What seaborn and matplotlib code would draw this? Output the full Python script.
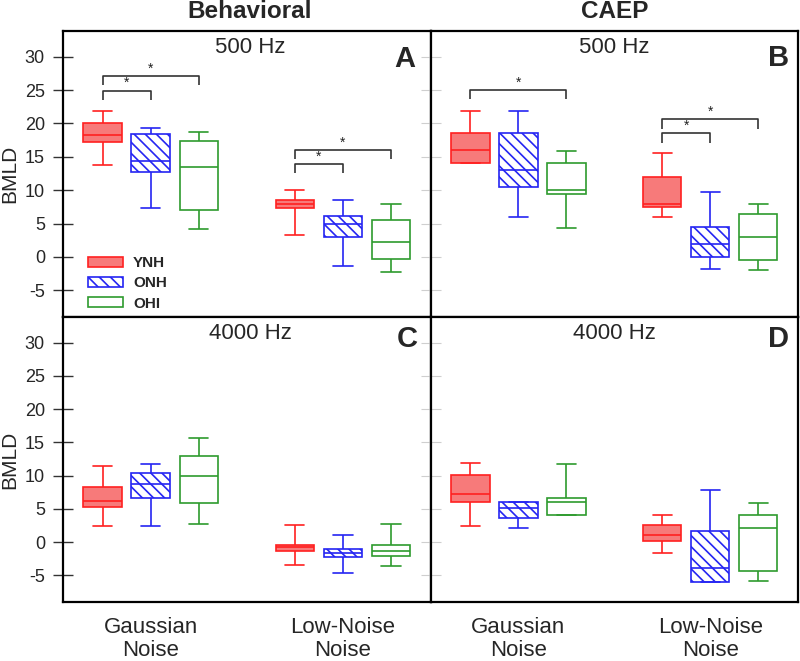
import numpy as np
import pandas as pd
import matplotlib
matplotlib.use("Agg")
import matplotlib.pyplot as plt
import seaborn as sns
from matplotlib.patches import Patch

# ---------------- data ----------------
NOISES = ["Gaussian\nNoise", "Low-Noise\nNoise"]
GROUPS = ["YNH", "ONH", "OHI"]
PANEL_LETTERS = ["A", "B", "C", "D"]
PANEL_FREQS = ["500 Hz", "500 Hz", "4000 Hz", "4000 Hz"]
COLUMN_TITLES = ["Behavioral", "CAEP"]
Y_TICKS = [-5, 0, 5, 10, 15, 20, 25, 30]

# five-number summaries [min, q1, median, q3, max]: [Gaussian, Low-Noise]
A_YNH = [[13.7, 17.2, 18.2, 20.1, 21.8], [3.3, 7.3, 7.9, 8.5, 10.0]]
A_ONH = [[7.4, 12.7, 14.4, 18.4, 19.3], [-1.4, 3.0, 5.0, 6.2, 8.5]]
A_OHI = [[4.2, 7.1, 13.5, 17.3, 18.7], [-2.3, -0.3, 2.2, 5.6, 7.9]]
B_YNH = [[14.0, 14.0, 16.0, 18.5, 21.8], [6.0, 7.5, 8.0, 12.0, 15.6]]
B_ONH = [[6.0, 10.5, 13.0, 18.5, 21.8], [-1.8, 0.0, 2.0, 4.5, 9.7]]
B_OHI = [[4.4, 9.5, 10.0, 14.0, 15.8], [-2.0, -0.5, 3.0, 6.5, 8.0]]
C_YNH = [[2.5, 5.3, 6.2, 8.3, 11.4], [-3.4, -1.3, -0.8, -0.5, 2.6]]
C_ONH = [[2.4, 6.7, 8.8, 10.4, 11.8], [-4.7, -2.2, -1.6, -1.0, 1.1]]
C_OHI = [[2.8, 5.9, 10.0, 12.9, 15.7], [-3.6, -2.1, -1.4, -0.5, 2.7]]
D_YNH = [[2.5, 6.1, 7.3, 10.1, 11.9], [-1.7, 0.1, 1.1, 2.6, 4.1]]
D_ONH = [[2.1, 3.6, 5.1, 6.1, 6.1], [-6.0, -6.0, -3.9, 1.6, 7.9]]
D_OHI = [[4.1, 4.1, 6.1, 6.6, 11.7], [-5.9, -4.4, 2.1, 4.1, 5.9]]

# significance brackets: (noise index, compared group, bracket height)
A_BRACKETS = [(0, "ONH", 24.9), (0, "OHI", 27.1), (1, "ONH", 13.9), (1, "OHI", 16.0)]
B_BRACKETS = [(0, "OHI", 25.0), (1, "ONH", 18.5), (1, "OHI", 20.6)]
C_BRACKETS = []
D_BRACKETS = []

PANELS = [
    {"YNH": A_YNH, "ONH": A_ONH, "OHI": A_OHI},
    {"YNH": B_YNH, "ONH": B_ONH, "OHI": B_OHI},
    {"YNH": C_YNH, "ONH": C_ONH, "OHI": C_OHI},
    {"YNH": D_YNH, "ONH": D_ONH, "OHI": D_OHI},
]
BRACKETS = [A_BRACKETS, B_BRACKETS, C_BRACKETS, D_BRACKETS]

# ---------------- style ----------------
FACE = {"YNH": "#F77A7A", "ONH": "white", "OHI": "white"}
EDGE = {"YNH": "#FF2020", "ONH": "#2525F2", "OHI": "#2E9B2E"}
HATCH = {"YNH": None, "ONH": "\\\\\\", "OHI": None}
WIDTH = 0.75
GAP = 0.2
LW = 1.2

sns.set_theme(style="white")
plt.rcParams["font.family"] = ["Liberation Sans", "DejaVu Sans"]
plt.rcParams["axes.unicode_minus"] = False
plt.rcParams["hatch.linewidth"] = 1.2

fig = plt.figure(figsize=(8.0, 6.61), dpi=100)
W, H = 800.0, 661.0
x0, xm, x1 = 63, 431, 798
y0, ym, y1 = 31, 317, 602
rects = [
    [x0 / W, 1 - ym / H, (xm - x0) / W, (ym - y0) / H],
    [xm / W, 1 - ym / H, (x1 - xm) / W, (ym - y0) / H],
    [x0 / W, 1 - y1 / H, (xm - x0) / W, (y1 - ym) / H],
    [xm / W, 1 - y1 / H, (x1 - xm) / W, (y1 - ym) / H],
]
letter_pos = [(0.929, 0.902), (0.948, 0.906), (0.935, 0.923), (0.946, 0.923)]

for i, (rect, series) in enumerate(zip(rects, PANELS)):
    ax = fig.add_axes(rect)
    rows = []
    for g in GROUPS:
        for ni, noise in enumerate(NOISES):
            for v in series[g][ni]:
                rows.append({"noise": noise, "group": g, "value": v})
    df = pd.DataFrame(rows)
    for g in GROUPS:
        sub = df[df["group"] == g]
        n0 = len(ax.patches)
        sns.boxplot(data=sub, x="noise", y="value", hue="group",
                    order=NOISES, hue_order=GROUPS,
                    palette={k: FACE[g] for k in GROUPS}, saturation=1,
                    linecolor=EDGE[g], linewidth=LW, width=WIDTH, gap=GAP,
                    whis=(0, 100), dodge=True, legend=False, ax=ax)
        for p in ax.patches[n0:]:
            p.set_facecolor(FACE[g])
            p.set_edgecolor(EDGE[g])
            p.set_linewidth(LW)
            if HATCH[g]:
                p.set_hatch(HATCH[g])

    # significance brackets
    step = WIDTH / len(GROUPS)
    for ni, g2, yb in BRACKETS[i]:
        xa = ni + (0 - 1) * step
        xb = ni + (GROUPS.index(g2) - 1) * step
        ax.plot([xa, xa, xb, xb], [yb - 1.4, yb, yb, yb - 1.4],
                color="#333333", lw=1.2, solid_capstyle="butt")
        ax.text((xa + xb) / 2, yb + 0.1, "*", ha="center", va="bottom",
                fontsize=10, color="#222222")

    ax.set_xlim(-0.456, 1.458)
    ax.set_ylim(-9.0, 33.85)
    ax.set_xlabel("")
    ax.set_ylabel("")
    for sp in ax.spines.values():
        sp.set_visible(True)
        sp.set_color("black")
        sp.set_linewidth(1.6)

    ax.set_yticks(Y_TICKS)
    if i % 2 == 0:
        ax.set_yticklabels([str(t) for t in Y_TICKS], fontsize=13)
        ax.tick_params(axis="y", direction="inout", length=14, width=1.0,
                       color="#333333", pad=6, left=True)
        ax.set_ylabel("BMLD", fontsize=15)
        ax.yaxis.set_label_coords(-0.12, 0.5)
    else:
        ax.set_yticklabels([])
        ax.tick_params(axis="y", direction="inout", length=14, width=0.8,
                       color="#cfcfcf", left=True)

    if i >= 2:
        ax.set_xticks([0, 1])
        ax.set_xticklabels(NOISES, fontsize=16)
        ax.tick_params(axis="x", length=0, pad=11)
        for t in ax.get_xticklabels():
            t.set_linespacing(1.1)
    else:
        ax.set_xticks([])

    ax.text(0.508 if i % 2 == 0 else 0.5, 0.942, PANEL_FREQS[i],
            transform=ax.transAxes, ha="center", va="center", fontsize=16)
    ax.text(letter_pos[i][0], letter_pos[i][1], PANEL_LETTERS[i],
            transform=ax.transAxes, ha="center", va="center",
            fontsize=21, fontweight="bold")
    if i < 2:
        ax.text(0.508 if i == 0 else 0.5, 1.0 + 19 / 286, COLUMN_TITLES[i],
                transform=ax.transAxes, ha="center", va="center",
                fontsize=17.5, fontweight="bold")

    if i == 0:
        handles = [Patch(facecolor=FACE[g], edgecolor=EDGE[g], hatch=HATCH[g],
                         linewidth=LW, label=g) for g in GROUPS]
        ax.legend(handles=handles, loc="upper left", bbox_to_anchor=(0.068, 0.212),
                  frameon=False, borderpad=0, borderaxespad=0,
                  handlelength=2.3, handleheight=0.6, handletextpad=0.65,
                  labelspacing=0.4, prop={"weight": "bold", "size": 11})

fig.savefig("out.png", dpi=100)
